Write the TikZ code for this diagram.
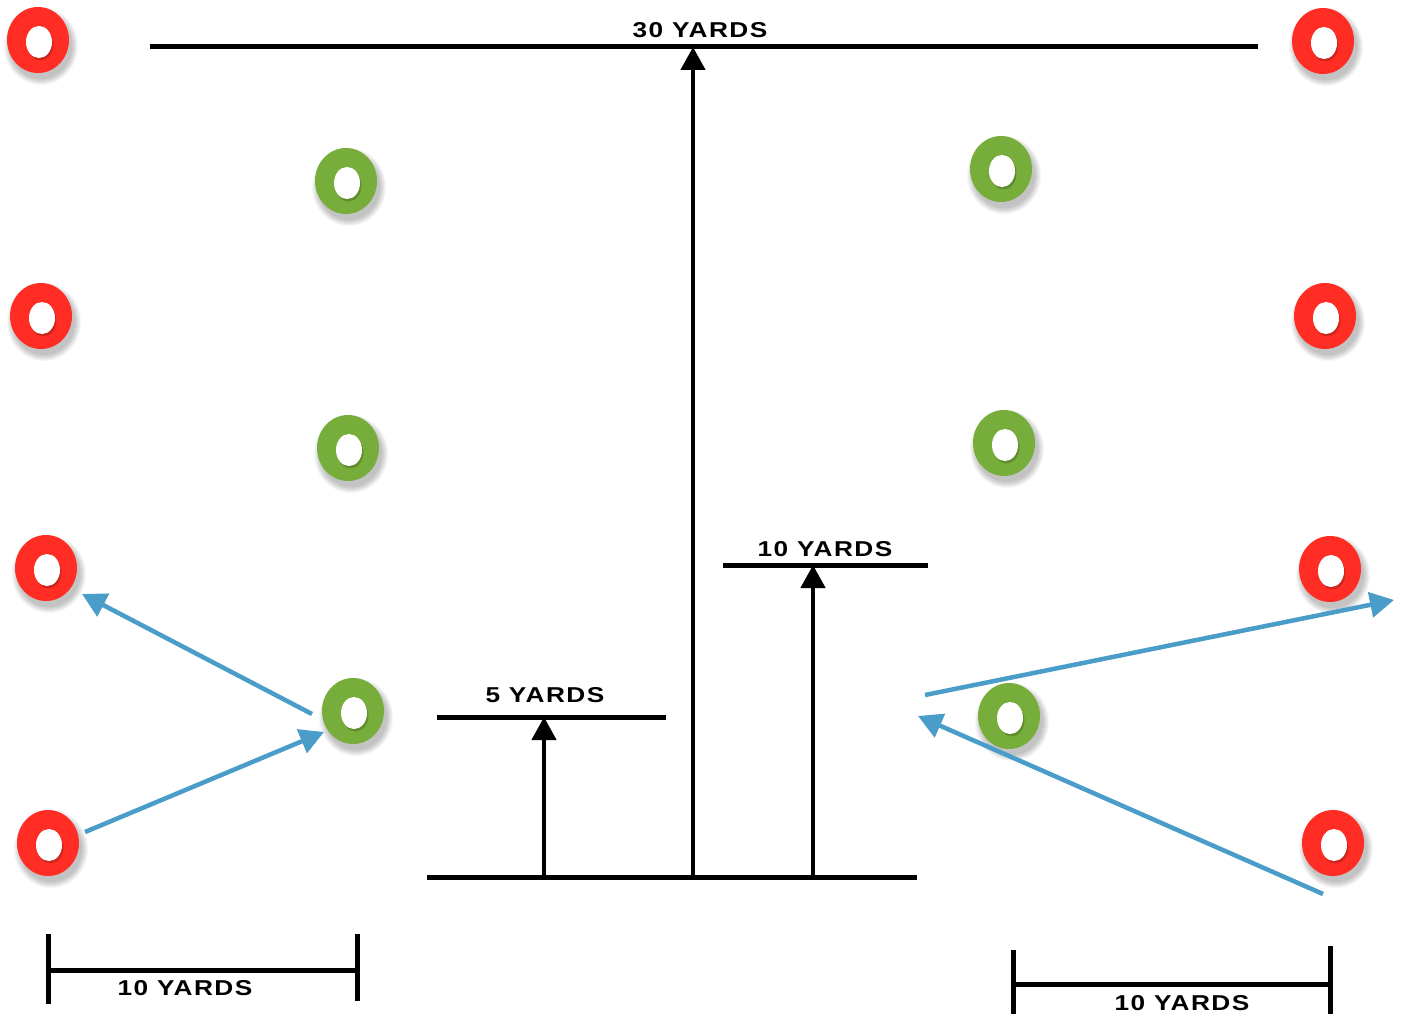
\documentclass[tikz,border=0pt]{standalone}
\usepackage{fontspec}
\setmainfont{Liberation Sans}[FakeStretch=1.22,LetterSpace=7]
\usetikzlibrary{arrows.meta,shapes.geometric}
\definecolor{conered}{HTML}{FF2D24}
\definecolor{conegreen}{HTML}{77AD3A}
\definecolor{arrowblue}{HTML}{4A9CC9}
\tikzset{
  conebody/.style={ellipse, minimum width=62pt, minimum height=66pt, inner sep=0pt, draw=none},
  conehole/.style={ellipse, fill=white, minimum width=26pt, minimum height=32pt, inner sep=0pt, draw=none},
  blackline/.style={line width=5pt, black},
  blackarrow/.style={line width=4.5pt, black, -{Triangle[length=23pt,width=24pt]}},
  bluearrow/.style={line width=4.5pt, arrowblue, -{Triangle[length=24pt,width=25pt]}},
  lbl/.style={font=\bfseries\fontsize{21.5pt}{23pt}\selectfont, anchor=base, inner sep=0pt},
}
\newcommand{\mycone}[4]{%
  \foreach \k in {1,...,7} {\fill[black, opacity=0.035] (#2+3,#3+6) ellipse ({30pt+\k*1pt} and {32pt+\k*1pt});}
  \node[conebody, fill=#4] (#1) at (#2,#3) {};
  \fill[#4!70!black, opacity=0.6] (#2+2.5,#3+4.5) ellipse (13pt and 16pt);
  \node[conehole] (#1h) at (#2+1,#3+2) {};
}
\begin{document}
\begin{tikzpicture}[x=1pt,y=-1pt]
\useasboundingbox[fill=white] (0,0) rectangle (1404,1014);
% cones
\mycone{r1}{38}{40}{conered}
\mycone{r2}{1323}{41}{conered}
\mycone{r3}{41}{316}{conered}
\mycone{r4}{1325}{316}{conered}
\mycone{r5}{46}{568}{conered}
\mycone{r6}{1330}{569}{conered}
\mycone{r7}{48}{843}{conered}
\mycone{r8}{1333}{843}{conered}
\mycone{g1}{346}{181}{conegreen}
\mycone{g2}{1001}{169}{conegreen}
\mycone{g3}{348}{448}{conegreen}
\mycone{g4}{1004}{443}{conegreen}
\mycone{g5}{353}{711}{conegreen}
\mycone{g6}{1009}{716}{conegreen}
% coordinates
\coordinate (topL) at (150,47);
\coordinate (topR) at (1258,47);
\coordinate (baseL) at (427,877);
\coordinate (baseR) at (917,877);
\coordinate (fiveL) at (437,717);
\coordinate (fiveR) at (666,717);
\coordinate (tenL) at (723,565);
\coordinate (tenR) at (928,565);
\coordinate (a30s) at (693,877);
\coordinate (a30e) at (693,47);
\coordinate (a5s) at (544,877);
\coordinate (a5e) at (544,717);
\coordinate (a10s) at (813,877);
\coordinate (a10e) at (813,565);
% black lines
\draw[blackline] (topL) -- (topR);
\draw[blackline] (baseL) -- (baseR);
\draw[blackline] (fiveL) -- (fiveR);
\draw[blackline] (tenL) -- (tenR);
\draw[blackarrow] (a30s) -- (a30e);
\draw[blackarrow] (a5s) -- (a5e);
\draw[blackarrow] (a10s) -- (a10e);
% labels
\node[lbl] (t30) at (700,37.5) {30 YARDS};
\node[lbl] (t5) at (545,702) {5 YARDS};
\node[lbl] (t10) at (825,556.5) {10 YARDS};
% scale bars
\coordinate (sl1) at (48,970);
\coordinate (sl2) at (360,970);
\coordinate (slt1a) at (48,934);
\coordinate (slt1b) at (48,1004);
\coordinate (slt2a) at (357,934);
\coordinate (slt2b) at (357,1001);
\draw[blackline] (sl1) -- (sl2);
\draw[blackline] (slt1a) -- (slt1b);
\draw[blackline] (slt2a) -- (slt2b);
\node[lbl] (tsl) at (185,995) {10 YARDS};
\coordinate (sr1) at (1013,984);
\coordinate (sr2) at (1330,984);
\coordinate (srt1a) at (1013,950);
\coordinate (srt1b) at (1013,1014);
\coordinate (srt2a) at (1330,946);
\coordinate (srt2b) at (1330,1014);
\draw[blackline] (sr1) -- (sr2);
\draw[blackline] (srt1a) -- (srt1b);
\draw[blackline] (srt2a) -- (srt2b);
\node[lbl] (tsr) at (1182,1010.5) {10 YARDS};
% blue arrows
\coordinate (b1s) at (312,714);
\coordinate (b1e) at (82,594);
\coordinate (b2s) at (85,832);
\coordinate (b2e) at (324,732);
\coordinate (b3s) at (925,695);
\coordinate (b3e) at (1394,600);
\coordinate (b4s) at (1323,894);
\coordinate (b4e) at (918,716);
\draw[bluearrow] (b1s) -- (b1e);
\draw[bluearrow] (b2s) -- (b2e);
\draw[bluearrow] (b3s) -- (b3e);
\draw[bluearrow] (b4s) -- (b4e);
\end{tikzpicture}
\end{document}
